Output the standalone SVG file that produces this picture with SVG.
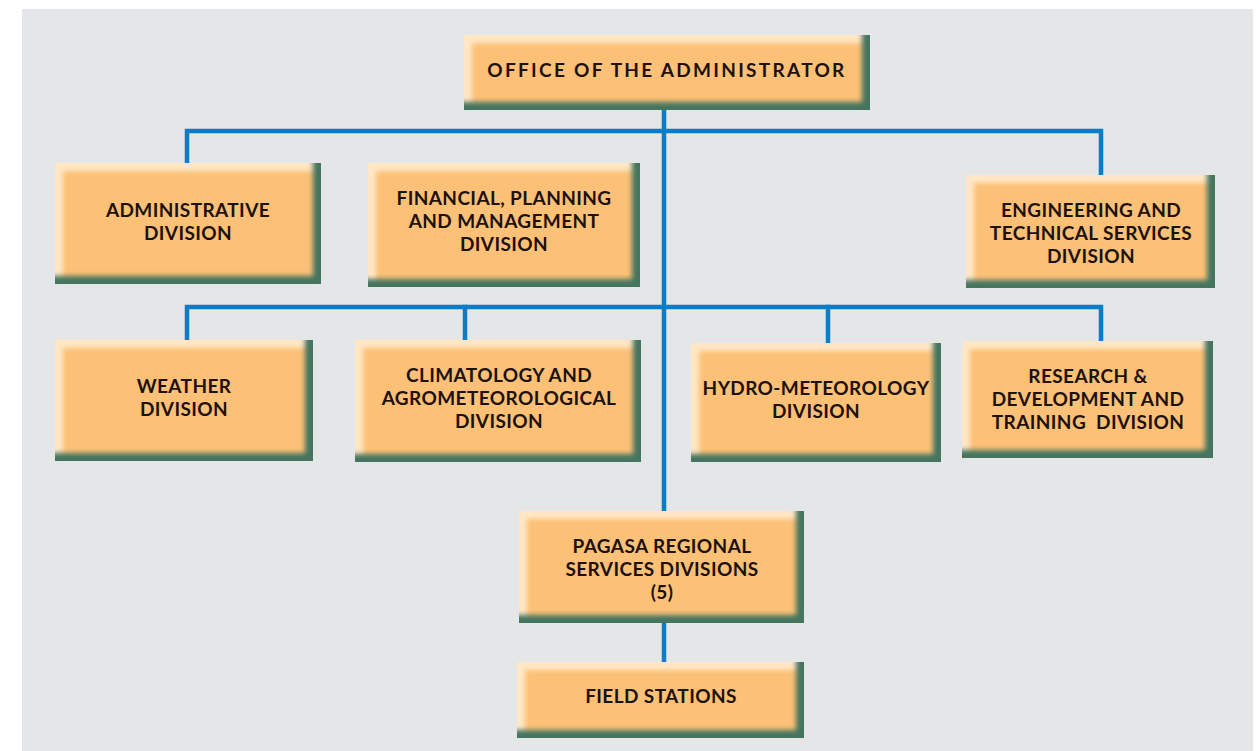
<svg xmlns="http://www.w3.org/2000/svg" width="1258" height="751" viewBox="0 0 1258 751">
  <defs>
    <style>
      .panel { fill: #e5e6e8; }
      .box { fill: #fcc077; filter: url(#bevel); }
      .lbl { font-family: Lato, "Open Sans", "DejaVu Sans", sans-serif; font-weight: 700; font-size: 19px; fill: #1c110b; text-anchor: middle; letter-spacing: 0.4px; }
      .wide { letter-spacing: 2.3px; }
      .wire { stroke: #0b7dc7; stroke-width: 4.5; fill: none; stroke-linecap: square; }
    </style>
    <!-- raised-button bevel: light top/left edge, dark green bottom/right edge -->
    <filter id="bevel" x="-10%" y="-20%" width="120%" height="140%" color-interpolation-filters="sRGB">
      <feOffset in="SourceAlpha" dx="-8" dy="-8" result="upShift"/>
      <feGaussianBlur in="upShift" stdDeviation="2.6" result="upBlur"/>
      <feComposite in="SourceAlpha" in2="upBlur" operator="out" result="darkMask"/>
      <feFlood flood-color="#45745f"/>
      <feComposite in2="darkMask" operator="in" result="dark"/>
      <feOffset in="SourceAlpha" dx="8" dy="8" result="dnShift"/>
      <feGaussianBlur in="dnShift" stdDeviation="2.6" result="dnBlur"/>
      <feComposite in="SourceAlpha" in2="dnBlur" operator="out" result="lightMask"/>
      <feFlood flood-color="#ffe7c6"/>
      <feComposite in2="lightMask" operator="in" result="light"/>
      <feMerge>
        <feMergeNode in="SourceGraphic"/>
        <feMergeNode in="light"/>
        <feMergeNode in="dark"/>
      </feMerge>
    </filter>
  </defs>

  <rect width="1258" height="751" fill="#ffffff"/>
  <rect class="panel" x="22" y="9" width="1231" height="742"/>

  <!-- reporting lines -->
  <g id="connectors">
    <line class="wire" x1="664" y1="110" x2="664" y2="510"/>
    <polyline class="wire" points="187,162 187,131 1101,131 1101,174"/>
    <polyline class="wire" points="187,339 187,307 1101,307 1101,340"/>
    <line class="wire" x1="465" y1="307" x2="465" y2="339"/>
    <line class="wire" x1="828" y1="307" x2="828" y2="342"/>
    <line class="wire" x1="664" y1="624" x2="664" y2="661"/>
  </g>

  <g id="office-administrator">
    <rect class="box" x="464" y="35" width="406" height="75"/>
    <text class="lbl wide" x="667" y="77">OFFICE OF THE ADMINISTRATOR</text>
  </g>

  <g id="administrative-division">
    <rect class="box" x="55" y="163" width="266" height="121"/>
    <text class="lbl" x="188" y="217">ADMINISTRATIVE</text>
    <text class="lbl" x="188" y="240">DIVISION</text>
  </g>

  <g id="financial-planning-division">
    <rect class="box" x="368" y="163" width="272" height="124"/>
    <text class="lbl" x="504" y="205">FINANCIAL, PLANNING</text>
    <text class="lbl" x="504" y="228">AND MANAGEMENT</text>
    <text class="lbl" x="504" y="251">DIVISION</text>
  </g>

  <g id="engineering-division">
    <rect class="box" x="966" y="175" width="249" height="113"/>
    <text class="lbl" x="1091" y="217">ENGINEERING AND</text>
    <text class="lbl" x="1091" y="240">TECHNICAL SERVICES</text>
    <text class="lbl" x="1091" y="263">DIVISION</text>
  </g>

  <g id="weather-division">
    <rect class="box" x="55" y="340" width="258" height="121"/>
    <text class="lbl" x="184" y="393">WEATHER</text>
    <text class="lbl" x="184" y="416">DIVISION</text>
  </g>

  <g id="climatology-division">
    <rect class="box" x="355" y="340" width="286" height="122"/>
    <text class="lbl" x="499" y="382">CLIMATOLOGY AND</text>
    <text class="lbl" x="499" y="405">AGROMETEOROLOGICAL</text>
    <text class="lbl" x="499" y="428">DIVISION</text>
  </g>

  <g id="hydro-meteorology-division">
    <rect class="box" x="691" y="343" width="250" height="119"/>
    <text class="lbl" x="816" y="395">HYDRO-METEOROLOGY</text>
    <text class="lbl" x="816" y="418">DIVISION</text>
  </g>

  <g id="research-division">
    <rect class="box" x="962" y="341" width="251" height="117"/>
    <text class="lbl" x="1088" y="383">RESEARCH &amp;</text>
    <text class="lbl" x="1088" y="406">DEVELOPMENT AND</text>
    <text class="lbl" x="1088" y="429" xml:space="preserve">TRAINING  DIVISION</text>
  </g>

  <g id="regional-services-divisions">
    <rect class="box" x="519" y="511" width="285" height="112"/>
    <text class="lbl" x="662" y="553">PAGASA REGIONAL</text>
    <text class="lbl" x="662" y="576">SERVICES DIVISIONS</text>
    <text class="lbl" x="662" y="599">(5)</text>
  </g>

  <g id="field-stations">
    <rect class="box" x="517" y="662" width="287" height="76"/>
    <text class="lbl" x="661" y="703">FIELD STATIONS</text>
  </g>
</svg>
